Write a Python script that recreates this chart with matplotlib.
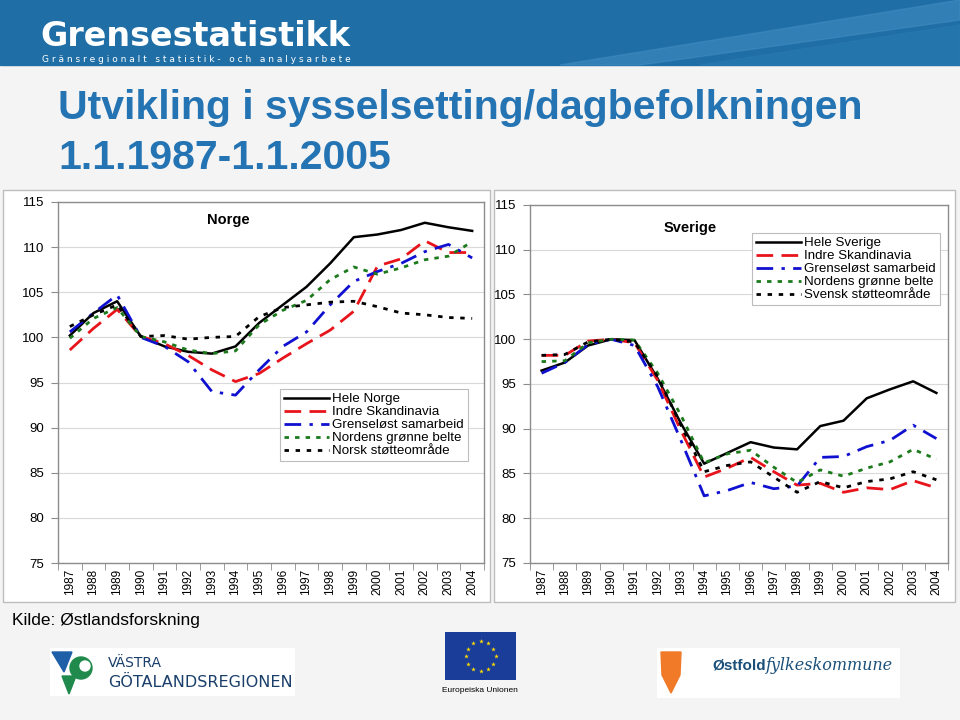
import numpy as np
import matplotlib
matplotlib.use("Agg")
from matplotlib import pyplot as plt
from matplotlib.patches import Rectangle, Polygon, Circle

years = [str(y) for y in range(1987, 2005)]

# Norge
hele_norge = [100.2, 102.7, 104.0, 100.1, 99.0, 98.4, 98.2, 99.0, 101.6, 103.6,
              105.6, 108.2, 111.1, 111.4, 111.9, 112.7, 112.2, 111.8]
indre_no = [98.6, 101.0, 103.1, 100.1, 99.3, 98.0, 96.4, 95.1, 96.0, 97.7,
            99.3, 100.8, 102.9, 107.9, 108.7, 110.7, 109.4, 109.4]
grenselost_no = [100.6, 102.7, 104.7, 100.0, 99.0, 97.3, 94.0, 93.6, 96.4, 99.0,
                 100.6, 103.6, 106.2, 107.3, 108.2, 109.5, 110.3, 108.8]
gronne_no = [99.9, 102.1, 103.3, 100.1, 99.5, 98.6, 98.2, 98.5, 101.4, 103.0,
             104.1, 106.4, 107.8, 107.0, 107.7, 108.6, 109.0, 110.6]
stotte_no = [101.2, 102.5, 103.6, 100.1, 100.2, 99.8, 100.0, 100.1, 102.3, 103.3,
             103.6, 103.9, 104.0, 103.4, 102.7, 102.5, 102.2, 102.1]

# Sverige
hele_sverige = [96.5, 97.4, 99.3, 100.0, 99.9, 95.6, 90.6, 86.1, 87.3, 88.5,
                87.9, 87.7, 90.3, 90.9, 93.4, 94.4, 95.3, 94.0]
indre_se = [98.2, 98.2, 99.8, 100.0, 99.6, 95.4, 89.8, 84.6, 85.6, 86.8,
            85.2, 83.7, 83.9, 82.9, 83.4, 83.2, 84.2, 83.4]
grenselost_se = [96.2, 97.4, 99.4, 100.0, 99.3, 94.7, 88.7, 82.5, 83.1, 84.0,
                 83.3, 83.6, 86.8, 86.9, 88.0, 88.7, 90.4, 88.9]
gronne_se = [97.5, 97.6, 99.6, 100.0, 99.9, 96.2, 91.5, 86.2, 87.2, 87.6,
             85.7, 84.0, 85.4, 84.7, 85.6, 86.3, 87.7, 86.6]
stotte_se = [98.2, 98.3, 99.7, 100.0, 99.7, 95.8, 90.4, 85.2, 85.9, 86.3,
             84.6, 82.9, 84.1, 83.4, 84.1, 84.4, 85.2, 84.3]

labels_no = ["Hele Norge", "Indre Skandinavia", "Grenseløst samarbeid",
             "Nordens grønne belte", "Norsk støtteområde"]
labels_se = ["Hele Sverige", "Indre Skandinavia", "Grenseløst samarbeid",
             "Nordens grønne belte", "Svensk støtteområde"]
yticks = [75, 80, 85, 90, 95, 100, 105, 110, 115]

styles = [
    dict(color="black", lw=1.8, ls="-"),
    dict(color="#e8141b", lw=2.0, ls=(0, (6, 3))),
    dict(color="#1010d0", lw=2.0, ls=(0, (6, 3, 1.2, 3))),
    dict(color="#1c7a1c", lw=2.0, ls=(0, (1.6, 2.2))),
    dict(color="black", lw=2.0, ls=(0, (1.6, 2.4))),
]

W, H = 960, 720
plt.rcParams['font.family'] = ['Liberation Sans', 'DejaVu Sans']


def rect(x0, y0, x1, y1):
    return [x0 / W, 1 - y1 / H, (x1 - x0) / W, (y1 - y0) / H]


fig = plt.figure(figsize=(9.6, 7.2), dpi=100, facecolor="#f4f4f4")

# header banner
bg = fig.add_axes([0, 0, 1, 1])
bg.set_xlim(0, W)
bg.set_ylim(H, 0)
bg.axis("off")
bg.add_patch(Rectangle((0, 0), W, 65, color="#1f6ea6"))
bg.add_patch(Polygon([[560, 65], [960, 0], [960, 20], [640, 65]], color="#3f8cc0", alpha=0.6))
bg.add_patch(Polygon([[700, 65], [960, 25], [960, 65]], color="#2a7ab2", alpha=0.6))
bg.text(40, 46, "Grensestatistikk", color="white", fontsize=24, fontweight="bold",
        family="DejaVu Sans", va="baseline", ha="left")
bg.text(42, 59.5, "G r ä n s r e g i o n a l t   s t a t i s t i k -   o c h   a n a l y s a r b e t e",
        color="white", fontsize=6.5, va="center", ha="left", family="DejaVu Sans")

# title
bg.text(58, 108, "Utvikling i sysselsetting/dagbefolkningen", color="#2474b3",
        fontsize=29.5, fontweight="bold", va="center", ha="left")
bg.text(58, 158, "1.1.1987-1.1.2005", color="#2474b3",
        fontsize=29.5, fontweight="bold", va="center", ha="left")

# chart boxes
bg.add_patch(Rectangle((3, 190), 487, 412, facecolor="white", edgecolor="#bdbdbd", lw=1))
bg.add_patch(Rectangle((494, 190), 461, 412, facecolor="white", edgecolor="#bdbdbd", lw=1))

bg.text(12, 620, "Kilde: Østlandsforskning", fontsize=12.5, va="center", ha="left")

# logos (simplified)
bg.add_patch(Rectangle((50, 648), 245, 48, facecolor="white", edgecolor="none"))
bg.add_patch(Polygon([[52, 652], [72, 652], [64, 672]], color="#1f5fa8"))
bg.add_patch(Polygon([[62, 676], [76, 676], [69, 694]], color="#1f8a4c"))
bg.add_patch(Circle((81, 668), 11, color="#1f8a4c"))
bg.add_patch(Circle((85, 666), 5, color="white"))
bg.text(108, 663, "VÄSTRA", fontsize=10, color="#1a3f6b", va="center", family="DejaVu Sans")
bg.text(108, 682, "GÖTALANDSREGIONEN", fontsize=11.5, color="#1a3f6b", va="center",
        family="DejaVu Sans")

bg.add_patch(Rectangle((445, 632), 71, 48, facecolor="#1a3d99", edgecolor="none"))
for a in np.linspace(0, 2 * np.pi, 12, endpoint=False):
    bg.plot(480.5 + 15 * np.cos(a), 656 + 15 * np.sin(a), marker="*", color="#ffdd00",
            ms=3.5, mec="none")
bg.text(480, 690, "Europeiska Unionen", fontsize=6, ha="center", va="center")

bg.add_patch(Rectangle((657, 648), 243, 50, facecolor="white", edgecolor="none"))
bg.add_patch(Polygon([[661, 652], [681, 652], [680, 675], [671, 693], [662, 675]], color="#f07a28"))
bg.text(712, 665, "Østfold", fontsize=11, fontweight="bold", color="#1a4f7a", va="center")
bg.text(766, 665, "fylkeskommune", fontsize=11.5, style="italic", color="#1a4f7a",
        va="center", family="DejaVu Serif")


def draw(ax_rect, series, labels, title, title_xy, leg_xy):
    ax = fig.add_axes(rect(*ax_rect))
    x = np.arange(len(years))
    for s, lab, st in zip(series, labels, styles):
        ax.plot(x, s, label=lab, **st)
    ax.set_xlim(-0.5, len(years) - 0.5)
    ax.set_ylim(75, 115)
    ax.set_yticks(yticks)
    ax.set_yticklabels([str(v) for v in yticks], fontsize=9.5)
    ax.set_xticks(x)
    ax.set_xticklabels(years, rotation=90, fontsize=8.5)
    ax.set_xticks(np.arange(-0.5, len(years)), minor=True)
    ax.tick_params(axis="x", which="major", length=0, pad=4)
    ax.tick_params(axis="x", which="minor", length=5, color="#8c8c8c")
    ax.tick_params(axis="y", length=5, color="#8c8c8c", pad=5)
    ax.grid(axis="y", color="#d9d9d9", lw=0.8)
    ax.set_axisbelow(True)
    for sp in ax.spines.values():
        sp.set_color("#8c8c8c")
        sp.set_linewidth(1)
    ax.text(title_xy[0], title_xy[1], title, transform=fig.transFigure,
            fontsize=10.5, fontweight="bold", ha="center", va="center")
    leg = ax.legend(loc="upper left", bbox_to_anchor=leg_xy, bbox_transform=fig.transFigure,
                    borderaxespad=0, fancybox=False, edgecolor="#bdbdbd", fontsize=9.6,
                    handlelength=3.4, handletextpad=0.2, labelspacing=0.05,
                    borderpad=0.3, framealpha=1)
    leg.get_frame().set_linewidth(0.8)
    return ax


draw((58, 202, 484, 563),
     [hele_norge, indre_no, grenselost_no, gronne_no, stotte_no],
     labels_no, "Norge", (228 / W, 1 - 220 / H), (280 / W, 1 - 389 / H))
draw((530, 205, 948, 563),
     [hele_sverige, indre_se, grenselost_se, gronne_se, stotte_se],
     labels_se, "Sverige", (690 / W, 1 - 228 / H), (752 / W, 1 - 233 / H))

fig.savefig("out.png", dpi=100, facecolor=fig.get_facecolor())
